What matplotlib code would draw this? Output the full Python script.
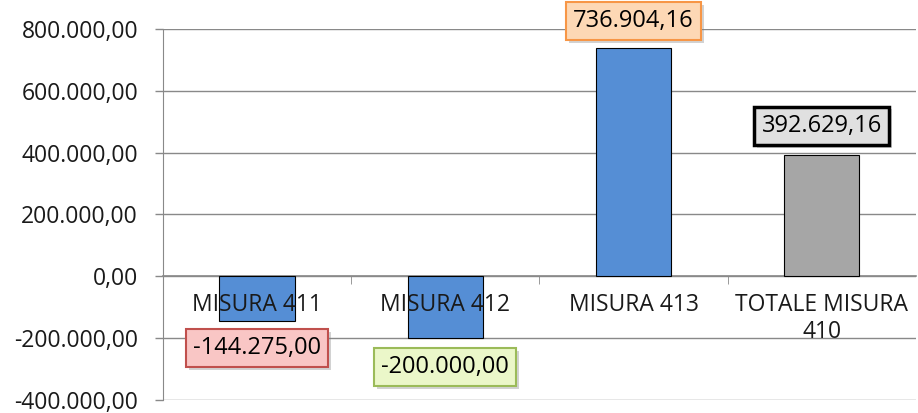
import matplotlib.pyplot as plt
import matplotlib.patheffects as pe
from matplotlib.ticker import FuncFormatter

categories = ["MISURA 411", "MISURA 412", "MISURA 413", "TOTALE MISURA\n410"]
values = [-144275.00, -200000.00, 736904.16, 392629.16]
bar_colors = ["#558ed5", "#558ed5", "#558ed5", "#a6a6a6"]
box_faces = ["#f9c6c5", "#ebf7c9", "#fdd8b5", "#e0e0e0"]
box_edges = ["#c0504d", "#9bbb59", "#f79646", "#000000"]
box_lw = [1.5, 1.5, 1.5, 2.5]
label_offsets = [-19.5, -21, 19.5, 21]  # punti
yticks = [-400000, -200000, 0, 200000, 400000, 600000, 800000]


def it_fmt(v, pos=None):
    s = f"{v:,.2f}"
    return s.replace(",", "X").replace(".", ",").replace("X", ".")


plt.rcParams['font.family'] = ['Open Sans', 'DejaVu Sans']

fig = plt.figure(figsize=(9.18, 4.13), dpi=100)
ax = fig.add_axes([0.1776, 0.032, 0.82, 0.898])

x = range(len(categories))
ax.bar(x, values, width=0.4, color=bar_colors, edgecolor="black", linewidth=0.8, zorder=3)

ax.set_ylim(-400000, 800000)
ax.set_xlim(-0.5, len(categories) - 0.5)
ax.set_yticks(yticks)
ax.yaxis.set_major_formatter(FuncFormatter(it_fmt))
ax.grid(True, axis='y', color="#898989", linewidth=1, zorder=0)
ax.tick_params(axis='y', length=6, width=1, color="#898989", direction='out',
               labelsize=16.5, pad=12, labelcolor="#1a1a1a")

# asse categorie sullo zero
ax.spines['bottom'].set_position(('data', 0))
ax.spines['bottom'].set_color("#898989")
ax.spines['bottom'].set_linewidth(1.2)
ax.spines['left'].set_color("#898989")
ax.spines['top'].set_visible(False)
ax.spines['right'].set_visible(False)
ax.set_xticks([0.5, 1.5, 2.5], minor=True)
ax.set_xticks(list(x))
ax.set_xticklabels(categories)
ax.tick_params(axis='x', which='major', length=0, labelsize=16.5, pad=12, colors="#1a1a1a")
ax.tick_params(axis='x', which='minor', length=6, color="#898989", direction='out')
ax.xaxis.set_zorder(4)
for lbl in ax.get_xticklabels():
    lbl.set_linespacing(1.2)

for i, v in enumerate(values):
    ann = ax.annotate(it_fmt(v), xy=(i, v), xytext=(0, label_offsets[i]), textcoords="offset points",
                      ha='center', va='center', fontsize=17, color="black", zorder=5,
                      annotation_clip=False,
                      bbox=dict(boxstyle='square,pad=0.3', facecolor=box_faces[i],
                                edgecolor=box_edges[i], linewidth=box_lw[i]))
    ann.get_bbox_patch().set_path_effects([
        pe.SimplePatchShadow(offset=(2, -2), shadow_rgbFace="#808080", alpha=0.35),
        pe.Normal()])

fig.savefig("out.png", dpi=100)
